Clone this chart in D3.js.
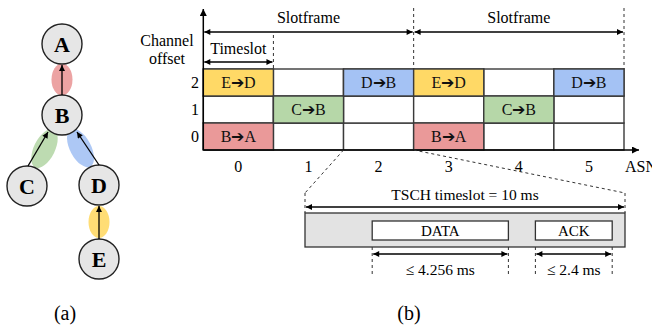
<!DOCTYPE html>
<html><head><meta charset="utf-8">
<script src="https://cdn.jsdelivr.net/npm/d3@7"></script>
<style>
html,body{margin:0;padding:0;background:#fff;}
svg{display:block;}
</style></head>
<body><svg id="c" width="652" height="333"></svg>
<script>
// ---- data ----
const asnTicks = [0, 1, 2, 3, 4, 5];
const channelTicks = [0, 1, 2];
const cellAsn = [0, 0, 1, 2, 3, 3, 4, 5];
const cellChannel = [2, 0, 1, 2, 2, 0, 1, 2];
const cellLabels = ["E➔D", "B➔A", "C➔B", "D➔B", "E➔D", "B➔A", "C➔B", "D➔B"];
const linkColors = {"E➔D": "#ffd966", "B➔A": "#ea9999", "C➔B": "#b6d7a8", "D➔B": "#a4c2f4"};
const slotframeLength = 3;      // slots per slotframe
const slotframes = [0, 1];
const timeslotMs = 10;
const dataStartMs = 2.1, dataLenMs = 4.256;
const ackStartMs = 7.2, ackLenMs = 2.4;
const treeNodes = ["A", "B", "C", "D", "E"];
const treeLinks = [["B", "A"], ["C", "B"], ["D", "B"], ["E", "D"]];

// ---- layout ----
const FONT = "Liberation Serif";
const svg = d3.select("#c").style("font-family", FONT);
const defs = svg.append("defs");
defs.append("marker").attr("id", "ah").attr("viewBox", "0 0 10 10").attr("refX", 10).attr("refY", 5)
  .attr("markerWidth", 8).attr("markerHeight", 7).attr("markerUnits", "userSpaceOnUse").attr("orient", "auto-start-reverse")
  .append("path").attr("d", "M0,0L10,5L0,10z").attr("fill", "#000");
defs.append("marker").attr("id", "ahs").attr("viewBox", "0 0 10 10").attr("refX", 10).attr("refY", 5)
  .attr("markerWidth", 7).attr("markerHeight", 6).attr("markerUnits", "userSpaceOnUse").attr("orient", "auto-start-reverse")
  .append("path").attr("d", "M0,0L10,5L0,10z").attr("fill", "#000");

const x = d3.scaleLinear().domain([0, 6]).range([203.3, 624]);
const y = d3.scaleLinear().domain([0, 3]).range([150, 69]);
const rowH = y(0) - y(1);

const g = svg.append("g");
for (const a of d3.range(6)) for (const c of channelTicks) {
  g.append("rect").attr("x", x(a)).attr("y", y(c + 1)).attr("width", x(a + 1) - x(a)).attr("height", rowH)
    .attr("fill", "#fff").attr("stroke", "#3a3a3a").attr("stroke-width", 1.4);
}
cellAsn.forEach((a, i) => {
  const c = cellChannel[i];
  g.append("rect").attr("x", x(a)).attr("y", y(c + 1)).attr("width", x(a + 1) - x(a)).attr("height", rowH)
    .attr("fill", linkColors[cellLabels[i]]).attr("stroke", "#3a3a3a").attr("stroke-width", 1.4);
  g.append("text").attr("x", x(a + 0.5)).attr("y", y(c + 0.5)).attr("dy", "0.35em").attr("text-anchor", "middle")
    .attr("font-size", 16).attr("fill", "#111").text(cellLabels[i]);
});

// axes
svg.append("line").attr("x1", x(0)).attr("y1", y(0)).attr("x2", x(0)).attr("y2", 9)
  .attr("stroke", "#000").attr("stroke-width", 1.5).attr("marker-end", "url(#ah)");
svg.append("line").attr("x1", x(0)).attr("y1", y(0)).attr("x2", 639).attr("y2", y(0))
  .attr("stroke", "#000").attr("stroke-width", 1.5).attr("marker-end", "url(#ah)");
svg.selectAll(".xt").data(asnTicks).join("text").attr("x", d => x(d + 0.5)).attr("y", 172)
  .attr("text-anchor", "middle").attr("font-size", 16).text(d => d);
svg.append("text").attr("x", 625).attr("y", 172).attr("font-size", 16).text("ASN");
svg.selectAll(".yt").data(channelTicks).join("text").attr("x", 199).attr("y", d => y(d + 0.5)).attr("dy", "0.35em")
  .attr("text-anchor", "end").attr("font-size", 16).text(d => d);
svg.append("text").attr("x", 167).attr("y", 46).attr("text-anchor", "middle").attr("font-size", 16).text("Channel");
svg.append("text").attr("x", 167).attr("y", 64).attr("text-anchor", "middle").attr("font-size", 16).text("offset");

// slotframe annotations
const dash = "3,3";
slotframes.forEach(s => {
  const x0 = x(s * slotframeLength), x1 = x((s + 1) * slotframeLength);
  svg.append("line").attr("x1", x1).attr("x2", x1).attr("y1", 8).attr("y2", y(3))
    .attr("stroke", "#333").attr("stroke-dasharray", dash).attr("stroke-width", 1);
  svg.append("line").attr("x1", x0 + 1).attr("x2", x1 - 1).attr("y1", 32).attr("y2", 32)
    .attr("stroke", "#000").attr("stroke-width", 1.3).attr("marker-start", "url(#ahs)").attr("marker-end", "url(#ahs)");
  svg.append("text").attr("x", (x0 + x1) / 2).attr("y", 23).attr("text-anchor", "middle").attr("font-size", 16).text("Slotframe");
});
svg.append("line").attr("x1", x(1)).attr("x2", x(1)).attr("y1", 35).attr("y2", y(3))
  .attr("stroke", "#333").attr("stroke-dasharray", dash).attr("stroke-width", 1);
svg.append("line").attr("x1", x(0) + 1).attr("x2", x(1) - 1).attr("y1", 62).attr("y2", 62)
  .attr("stroke", "#000").attr("stroke-width", 1.3).attr("marker-start", "url(#ahs)").attr("marker-end", "url(#ahs)");
svg.append("text").attr("x", x(0.5)).attr("y", 54).attr("text-anchor", "middle").attr("font-size", 16).text("Timeslot");

// TSCH timeslot zoom
const t = d3.scaleLinear().domain([0, timeslotMs]).range([305, 625]);
const boxTop = 213, boxBot = 247;
svg.append("line").attr("x1", x(2)).attr("y1", y(0)).attr("x2", t(0)).attr("y2", 193)
  .attr("stroke", "#333").attr("stroke-dasharray", dash).attr("stroke-width", 1);
svg.append("line").attr("x1", x(3)).attr("y1", y(0)).attr("x2", t(timeslotMs)).attr("y2", 193)
  .attr("stroke", "#333").attr("stroke-dasharray", dash).attr("stroke-width", 1);
[0, timeslotMs].forEach(v => svg.append("line").attr("x1", t(v)).attr("x2", t(v)).attr("y1", 193).attr("y2", boxTop)
  .attr("stroke", "#333").attr("stroke-dasharray", dash).attr("stroke-width", 1));
svg.append("line").attr("x1", t(0) + 1).attr("x2", t(timeslotMs) - 1).attr("y1", 207).attr("y2", 207)
  .attr("stroke", "#000").attr("stroke-width", 1.3).attr("marker-start", "url(#ahs)").attr("marker-end", "url(#ahs)");
svg.append("text").attr("x", t(timeslotMs / 2)).attr("y", 200).attr("text-anchor", "middle").attr("font-size", 15.5)
  .text("TSCH timeslot = " + timeslotMs + " ms");
svg.append("rect").attr("x", t(0)).attr("y", boxTop).attr("width", t(timeslotMs) - t(0)).attr("height", boxBot - boxTop)
  .attr("fill", "#e3e3e3").attr("stroke", "#333").attr("stroke-width", 1.3);

const frames = [
  {name: "DATA", s: dataStartMs, l: dataLenMs, lab: "≤ " + dataLenMs + " ms"},
  {name: "ACK", s: ackStartMs, l: ackLenMs, lab: "≤ " + ackLenMs + " ms"}
];
frames.forEach(f => {
  const a = t(f.s), b = t(f.s + f.l);
  svg.append("rect").attr("x", a).attr("y", 221).attr("width", b - a).attr("height", 19)
    .attr("fill", "#fff").attr("stroke", "#333").attr("stroke-width", 1.3);
  svg.append("text").attr("x", (a + b) / 2).attr("y", 230.5).attr("dy", "0.35em").attr("text-anchor", "middle")
    .attr("font-size", 15).text(f.name);
  [a, b].forEach(v => svg.append("line").attr("x1", v).attr("x2", v).attr("y1", boxBot).attr("y2", 277)
    .attr("stroke", "#333").attr("stroke-dasharray", dash).attr("stroke-width", 1));
  svg.append("line").attr("x1", a + 1).attr("x2", b - 1).attr("y1", 254).attr("y2", 254)
    .attr("stroke", "#000").attr("stroke-width", 1.3).attr("marker-start", "url(#ahs)").attr("marker-end", "url(#ahs)");
  svg.append("text").attr("x", (a + b) / 2).attr("y", 275).attr("text-anchor", "middle").attr("font-size", 15.5).text(f.lab);
});

// ---- tree (a) ----
const pos = {A: [62, 44], B: [62, 115], C: [27, 186], D: [99, 185], E: [99, 259]};
const R = 20;
const tg = svg.append("g");
treeLinks.forEach(([c, p]) => {
  const [cx, cy] = pos[c], [px, py] = pos[p];
  const dx = px - cx, dy = py - cy;
  const mx = (cx + px) / 2, my = (cy + py) / 2 + (c === "C" || c === "D" ? -2 : 0);
  const ang = Math.atan2(dx, -dy) * 180 / Math.PI;
  tg.append("ellipse").attr("cx", mx).attr("cy", my).attr("rx", 10.5).attr("ry", c === "C" || c === "D" ? 21 : 16)
    .attr("transform", `rotate(${ang},${mx},${my})`)
    .attr("fill", linkColors[c + "➔" + p]).attr("opacity", 0.9);
});
treeNodes.forEach(n => {
  tg.append("circle").attr("cx", pos[n][0]).attr("cy", pos[n][1]).attr("r", R)
    .attr("fill", "#e6e6e6").attr("stroke", "#222").attr("stroke-width", 1.4);
  tg.append("text").attr("x", pos[n][0]).attr("y", pos[n][1]).attr("dy", "0.35em").attr("text-anchor", "middle")
    .attr("font-size", 22).attr("font-weight", "bold").text(n);
});
const edgeEnds = {C: [[28, 166], [48, 132]], D: [[99, 165], [77, 132]], B: [[62, 95], [62, 65]], E: [[99, 239], [99, 206]]};
treeLinks.forEach(([c]) => {
  const [s, e] = edgeEnds[c];
  tg.append("line").attr("x1", s[0]).attr("y1", s[1]).attr("x2", e[0]).attr("y2", e[1])
    .attr("stroke", "#000").attr("stroke-width", 1.3).attr("marker-end", "url(#ahs)");
});

svg.append("text").attr("x", 65).attr("y", 320).attr("text-anchor", "middle").attr("font-size", 20).text("(a)");
svg.append("text").attr("x", 409).attr("y", 320).attr("text-anchor", "middle").attr("font-size", 20).text("(b)");
</script></body></html>
